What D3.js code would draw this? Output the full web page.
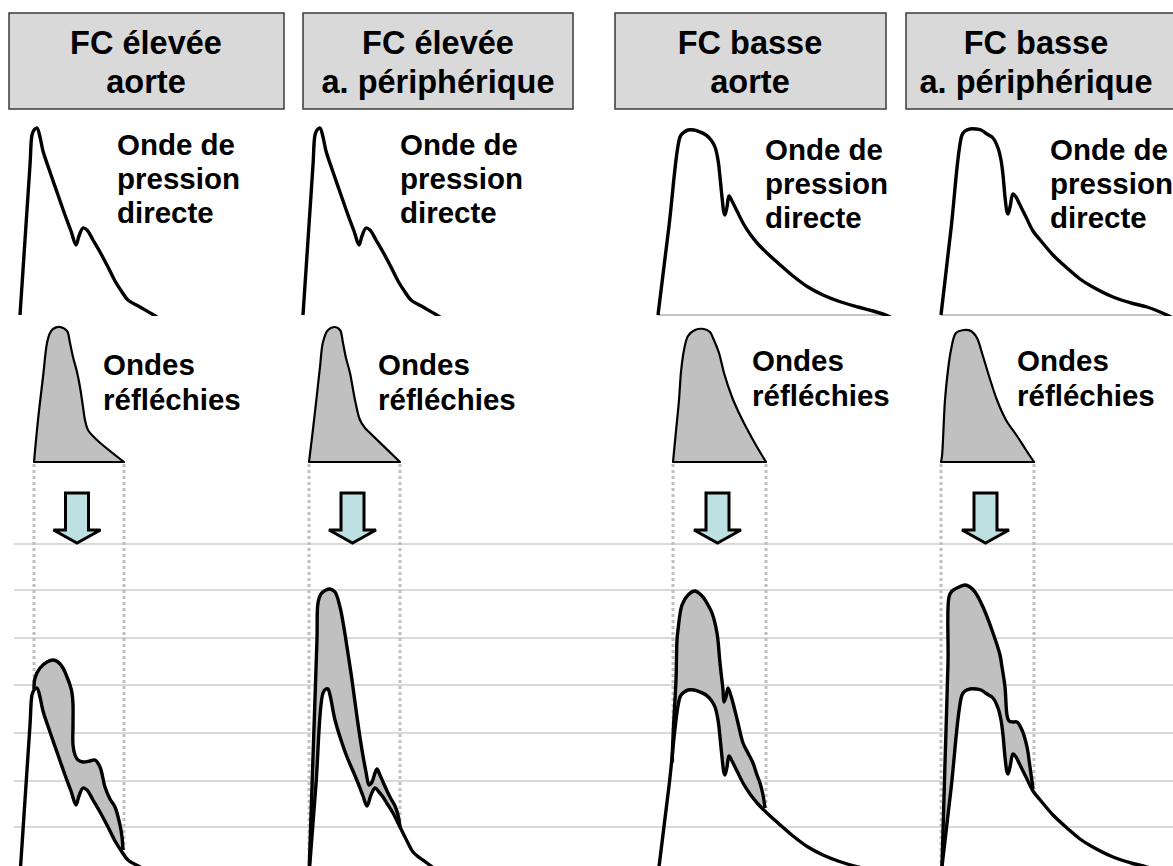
<!DOCTYPE html>
<html><head><meta charset="utf-8">
<script src="https://cdn.jsdelivr.net/npm/d3@7"></script>
<style>html,body{margin:0;padding:0;background:#fff;} svg{display:block;}</style>
</head><body><svg id="c" width="1173" height="866"></svg>
<script>
// ---------- DATA (time t, pressure p) ----------
const headerLine1 = ["FC élevée", "FC élevée", "FC basse", "FC basse"];
const headerLine2 = ["aorte", "a. périphérique", "aorte", "a. périphérique"];
const directLabel = ["Onde de", "pression", "directe"];
const reflectedLabel = ["Ondes", "réfléchies"];
const gridLevels = [48, 94, 142, 190, 237, 285, 331];

// direct pressure waves
const directHigh = [[0,0],[5,75],[10,150],[12,180],[14,185],[17,187],[20,178],[23,164],[30,143],[38,120],[45,100],[51,84],[56,70],[59,79],[63,87],[67,85],[73,75],[80,63],[88,48],[95,34],[102,23],[108,15],[120,8],[132,1],[140,-4]];
const directHighPeriph = [[0,0],[7,91],[14,182],[17,186],[19,186],[21,180],[26,155],[32,135],[38,118],[44,104],[49,92],[54,79],[58,69],[62,80],[66,87],[70,83],[74,78],[79,70],[84,62],[89,52],[94,42],[99,32],[104,23],[111,17],[118,12],[126,6],[136,0],[142,-3]];
const directLowAorta = [[0,0],[11,89],[22,178],[25,182],[30,185],[36,185],[42,183],[48,180],[53,175],[57,168],[60,155],[62,138],[64,118],[66,102],[67,100],[69,108],[71,119],[74,114],[79,104],[85,92],[92,81],[100,71],[110,61],[120,52],[135,39],[150,28],[165,20],[180,14],[200,8],[215,4],[230,-1],[236,-4]];
const directLowPeriph = [[0,0],[10,86],[21,180],[24,184],[29,186],[35,186],[40,185],[46,181],[52,177],[57,167],[60,155],[62,140],[64,118],[66,103],[67,101],[69,108],[72,121],[75,118],[79,110],[85,98],[92,84],[100,74],[112,60],[126,47],[139,36],[150,29],[172,18],[190,12],[206,8],[226,0],[232,-3]];

// reflected waves
const reflHigh = [[0,0],[4,42],[9,85],[13,119],[16,129],[19,133],[26,135],[33,131],[36,119],[39,105],[43,90],[46,75],[49,55],[51,42],[54,32],[63,22],[90,0]];
const reflHighPeriph = [[0,0],[4,33],[8,68],[11,95],[14,120],[19,132],[26,135],[31,132],[34,119],[37,104],[41,89],[46,62],[51,42],[56,34],[61,29],[91,0]];
const reflLowAorta = [[2,0],[5,31],[8,62],[10,90],[13,112],[17,126],[24,132],[33,133],[39,130],[42,124],[48,109],[53,89],[61,65],[68,49],[75,35],[86,15],[92,5],[95,0]];
const reflLowPeriph = [[0,0],[1,6],[4,62],[7,92],[10,112],[15,129],[23,132],[30,131],[36,124],[41,109],[48,86],[56,62],[65,42],[76,26],[85,12],[93,0]];

// resulting (direct + reflected) waves
const compHigh = [[14,186],[15,197],[20,207],[27,213],[33,215],[38,213],[43,207],[47,198],[50,190],[52,182],[53,170],[53,150],[53,130],[55,120],[58,115],[63,113],[70,114],[75,115],[80,108],[85,88],[90,76],[95,68],[100,50],[102,38],[103,25]];
const compHighPeriph = [[0,0],[4,118],[8,236],[9,272],[12,281],[17,285],[21,286],[26,283],[31,268],[35,247],[38,228],[43,195],[48,158],[53,125],[57,103],[60,90],[63,93],[66,102],[68,106],[71,100],[74,93],[81,78],[86,69],[89,60],[91,48]];
const compLowAorta = [[14,112],[15,138],[16,158],[18,195],[19,235],[20,245],[24,270],[30,280],[37,284],[45,278],[50,270],[54,262],[59,242],[62,212],[65,185],[66,173],[68,178],[70,187],[73,179],[75,172],[80,152],[85,132],[90,122],[95,112],[99,100],[102,92],[105,80],[107,67]];
const compLowPeriph = [[1,9],[4,112],[7,212],[8,278],[11,284],[16,287],[24,290],[29,288],[34,283],[42,268],[52,242],[59,220],[61,208],[64,188],[66,160],[68,154],[72,153],[76,153],[81,145],[86,128],[89,108],[92,86]];

// ---------- LAYOUT ----------
const W = 1173, H = 866;
const layout = [
  {box:[9,284],    tx:146,  xTop:20,  xBot:20,  rx:34,  dl:[117,155], rl:[103,375], base:false},
  {box:[303,573],  tx:438,  xTop:303, xBot:309, rx:309, dl:[400,155], rl:[378,375], base:false},
  {box:[615,886],  tx:750,  xTop:658, xBot:658, rx:671, dl:[765,160], rl:[752,371], base:true},
  {box:[906,1178], tx:1036, xTop:941, xBot:941, rx:941, dl:[1050,160], rl:[1017,371], base:true}
];
const topWaves = [directHigh, directHigh, directLowAorta, directLowPeriph];
const botWaves = [directHigh, directHighPeriph, directLowAorta, directLowPeriph];
const reflWaves = [reflHigh, reflHighPeriph, reflLowAorta, reflLowPeriph];
const compWaves = [compHigh, compHighPeriph, compLowAorta, compLowPeriph];

const FONT = "'Liberation Sans', Arial, Helvetica, sans-serif";
const svg = d3.select("#c");

const yTop = d3.scaleLinear().domain([0, 200]).range([315, 115]);
const yRef = d3.scaleLinear().domain([0, 200]).range([462, 262]);
const yBot = d3.scaleLinear().domain([0, 331]).range([875, 544]);

svg.append("defs").append("clipPath").attr("id","clipTop")
  .append("rect").attr("x",0).attr("y",0).attr("width",W).attr("height",316);

// grid lines
svg.append("g").selectAll("line").data(gridLevels).join("line")
  .attr("x1",14).attr("x2",W)
  .attr("y1",d=>yBot(d)).attr("y2",d=>yBot(d))
  .attr("stroke","#d9d9d9").attr("stroke-width",2);

const curve = d3.curveCatmullRom.alpha(0.5);

layout.forEach((L, i) => {
  const xT = d3.scaleLinear().domain([0, 240]).range([L.xTop, L.xTop + 240]);
  const xB = d3.scaleLinear().domain([0, 240]).range([L.xBot, L.xBot + 240]);
  const xR = d3.scaleLinear().domain([0, 100]).range([L.rx, L.rx + 100]);
  const g = svg.append("g");

  // header box
  g.append("rect").attr("x",L.box[0]).attr("y",13)
    .attr("width",L.box[1]-L.box[0]).attr("height",96)
    .attr("fill","#d9d9d9").attr("stroke","#3a3a3a").attr("stroke-width",1.5);
  [headerLine1[i], headerLine2[i]].forEach((t, k) => {
    g.append("text").attr("x", L.tx).attr("y", 54 + k*39)
      .attr("text-anchor","middle").attr("font-family",FONT)
      .attr("font-weight","bold").attr("font-size",32.5).attr("fill","#000").text(t);
  });

  // top: direct wave
  if (L.base) {
    g.append("line").attr("x1",xT(0)).attr("x2",xT(227)).attr("y1",yTop(0)).attr("y2",yTop(0))
      .attr("stroke","#b0b0b0").attr("stroke-width",1.5);
  }
  const lineTop = d3.line().x(d=>xT(d[0])).y(d=>yTop(d[1])).curve(curve);
  g.append("path").attr("d", lineTop(topWaves[i])).attr("clip-path","url(#clipTop)")
    .attr("fill","none").attr("stroke","#000").attr("stroke-width",3.4)
    .attr("stroke-linejoin","round");
  directLabel.forEach((t,k) => {
    g.append("text").attr("x",L.dl[0]).attr("y",L.dl[1] + k*34)
      .attr("font-family",FONT).attr("font-weight","bold").attr("font-size",29.5)
      .attr("fill","#000").text(t);
  });

  // middle: reflected wave
  const refl = reflWaves[i];
  const lineRef = d3.line().x(d=>xR(d[0])).y(d=>yRef(d[1])).curve(curve);
  g.append("path").attr("d", lineRef(refl) + "Z")
    .attr("fill","#c0c0c0").attr("stroke","#000").attr("stroke-width",2.2)
    .attr("stroke-linejoin","round");
  reflectedLabel.forEach((t,k) => {
    g.append("text").attr("x",L.rl[0]).attr("y",L.rl[1] + k*35)
      .attr("font-family",FONT).attr("font-weight","bold").attr("font-size",29.5)
      .attr("fill","#000").text(t);
  });

  // dotted guides
  const comp = compWaves[i];
  const xl = xR(refl[0][0]), xr = xR(refl[refl.length-1][0]);
  [[xl, comp[0][1]], [xr, comp[comp.length-1][1]]].forEach(([x, p]) => {
    g.append("line").attr("x1",x).attr("x2",x).attr("y1",yRef(0)+2).attr("y2",yBot(p))
      .attr("stroke","#bfbfbf").attr("stroke-width",3).attr("stroke-dasharray","3,3");
  });

  // arrow
  const ac = (xl + xr) / 2 - 2;
  const arrow = d3.path();
  arrow.moveTo(ac-11.5, 493); arrow.lineTo(ac+11.5, 493); arrow.lineTo(ac+11.5, 530);
  arrow.lineTo(ac+23.5, 530); arrow.lineTo(ac, 543); arrow.lineTo(ac-23.5, 530);
  arrow.lineTo(ac-11.5, 530); arrow.closePath();
  g.append("path").attr("d", arrow.toString())
    .attr("fill","#bde0e2").attr("stroke","#000").attr("stroke-width",3)
    .attr("stroke-linejoin","miter");

  // bottom: composite
  const low = botWaves[i];
  const lineBot = d3.line().x(d=>xB(d[0])).y(d=>yBot(d[1])).curve(curve);
  const t0 = comp[0][0], t1 = comp[comp.length-1][0];
  const seg = low.filter(d => d[0] > t0 && d[0] < t1).reverse();
  const back = [comp[comp.length-1], ...seg, comp[0]];
  const fillPath = lineBot(comp) + lineBot(back).replace(/^M/, "L") + "Z";
  g.append("path").attr("d", fillPath).attr("fill","#c0c0c0").attr("stroke","none");
  g.append("path").attr("d", lineBot(low)).attr("fill","none")
    .attr("stroke","#000").attr("stroke-width",3.4).attr("stroke-linejoin","round");
  g.append("path").attr("d", lineBot(comp)).attr("fill","none")
    .attr("stroke","#000").attr("stroke-width",3.4).attr("stroke-linejoin","round");
});
</script>
</body></html>
